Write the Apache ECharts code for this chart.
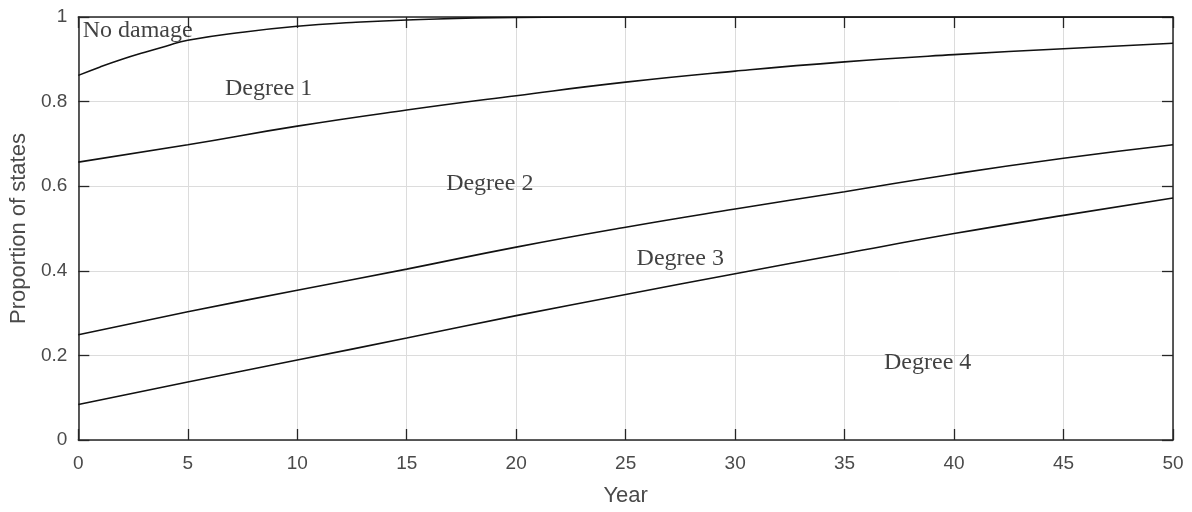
<!DOCTYPE html>
<html>
<head>
<meta charset="utf-8">
<script src="https://cdn.jsdelivr.net/npm/echarts@6/dist/echarts.min.js"></script>
<style>
  html, body { margin: 0; padding: 0; background: #ffffff; }
  #chart { width: 1192px; height: 512px; }
</style>
</head>
<body>
<div id="chart"></div>
<script>
// Proportion of bridge condition states over a 50-year horizon.
// Each curve is a cumulative boundary between two damage states.
const noDamageYears = [0, 1, 2, 3, 4, 5, 7.5, 10, 12.5, 15, 20, 25, 30, 35, 40, 45, 50];
const noDamage      = [0.862, 0.882, 0.900, 0.916, 0.931, 0.945, 0.964, 0.978, 0.987, 0.993, 0.999, 1.0, 1.0, 1.0, 1.0, 1.0, 1.0];

const years   = [0, 5, 10, 15, 20, 25, 30, 35, 40, 45, 50];
const degree1 = [0.657, 0.698, 0.742, 0.780, 0.814, 0.846, 0.872, 0.894, 0.911, 0.925, 0.938];
const degree2 = [0.249, 0.303, 0.354, 0.404, 0.456, 0.503, 0.546, 0.587, 0.629, 0.666, 0.698];
const degree3 = [0.084, 0.137, 0.189, 0.241, 0.294, 0.344, 0.393, 0.441, 0.488, 0.531, 0.572];

// State names written inside the plot (x in years, y in proportion)
const stateNames = ['No damage', 'Degree 1', 'Degree 2', 'Degree 3', 'Degree 4'];
const stateNameX = [0.2, 6.7, 16.8, 25.5, 36.8];
const stateNameY = [0.968, 0.831, 0.607, 0.428, 0.183];

const xTicks = { min: 0, max: 50, interval: 5 };
const yTicks = { min: 0, max: 1, interval: 0.2 };

const pair = (xs, ys) => xs.map((x, i) => [x, ys[i]]);

const frameColor = '#262626';
const tickTextColor = '#4a4a4a';
const gridColor = '#dcdcdc';
const sans = '"Liberation Sans", Arial, sans-serif';
const serif = '"Liberation Serif", "Times New Roman", serif';

function xAxis(pos, showLabels) {
  return {
    type: 'value', position: pos,
    min: xTicks.min, max: xTicks.max, interval: xTicks.interval,
    name: showLabels ? 'Year' : '',
    nameLocation: 'middle', nameGap: 45,
    nameTextStyle: { fontFamily: sans, fontSize: 22, color: tickTextColor },
    axisLine: { show: true, onZero: false, lineStyle: { color: frameColor, width: 1.5 } },
    axisTick: { show: true, inside: true, length: 11, lineStyle: { color: frameColor, width: 1.3 } },
    axisLabel: { show: showLabels, margin: 14, fontFamily: sans, fontSize: 19, color: tickTextColor },
    splitLine: { show: showLabels, lineStyle: { color: gridColor, width: 1 } }
  };
}

function yAxis(pos, showLabels) {
  return {
    type: 'value', position: pos,
    min: yTicks.min, max: yTicks.max, interval: yTicks.interval,
    name: showLabels ? 'Proportion of states' : '',
    nameLocation: 'middle', nameGap: 44, nameRotate: 90,
    nameTextStyle: { fontFamily: sans, fontSize: 22, color: tickTextColor },
    axisLine: { show: true, onZero: false, lineStyle: { color: frameColor, width: 1.5 } },
    axisTick: { show: true, inside: true, length: 11, lineStyle: { color: frameColor, width: 1.3 } },
    axisLabel: { show: showLabels, margin: 11, fontFamily: sans, fontSize: 19, color: tickTextColor,
                 padding: [6, 0, 0, 0],
                 formatter: v => (v === 0 || v === 1) ? String(v) : v.toFixed(1) },
    splitLine: { show: showLabels, lineStyle: { color: gridColor, width: 1 } }
  };
}

function curve(data) {
  return {
    type: 'line', data: data, xAxisIndex: 0, yAxisIndex: 0,
    smooth: 0.5, showSymbol: false, symbol: 'none',
    lineStyle: { color: '#111111', width: 1.6 }, z: 3, silent: true
  };
}

const chart = echarts.init(document.getElementById('chart'), null, { renderer: 'canvas' });
chart.setOption({
  backgroundColor: '#ffffff',
  animation: false,
  grid: { left: 75, right: 19, top: 17, bottom: 66, containLabel: false },
  xAxis: [xAxis('bottom', true), xAxis('top', false)],
  yAxis: [yAxis('left', true), yAxis('right', false)],
  series: [
    curve(pair(noDamageYears, noDamage)),
    curve(pair(years, degree1)),
    curve(pair(years, degree2)),
    curve(pair(years, degree3)),
    {
      type: 'scatter', xAxisIndex: 0, yAxisIndex: 0, symbolSize: 0, silent: true, z: 4,
      data: stateNames.map((n, i) => ({ name: n, value: [stateNameX[i], stateNameY[i]] })),
      label: {
        show: true, position: 'right', distance: 0,
        formatter: p => p.name,
        fontFamily: serif, fontSize: 24, color: '#111111', verticalAlign: 'middle'
      }
    }
  ]
});
</script>
</body>
</html>
